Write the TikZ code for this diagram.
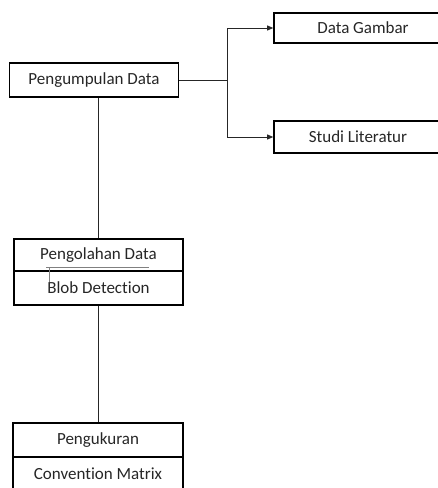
\documentclass[tikz,border=0pt]{standalone}
\usepackage{fontspec}
\setmainfont{Carlito}[Ligatures=NoCommon]
\usetikzlibrary{arrows.meta}
\begin{document}
\begin{tikzpicture}[x=1pt,y=-1pt,
  box/.style={draw, line width=1.6pt, inner sep=0pt, font=\fontsize{17}{20}\selectfont, text=black!85},
  conn/.style={line width=0.8pt, draw=black!85},
  arr/.style={conn, -{Triangle[length=6pt,width=5pt]}},
  mark line/.style={line width=0.7pt, draw=black!50}]
\useasboundingbox (0,0) rectangle (438,488);
\clip (0,0) rectangle (438,488);
\node[box, minimum width=169pt, minimum height=34pt] (pd) at (94,80) {Pengumpulan Data};
\node[box, minimum width=178pt, minimum height=30pt] (dg) at (363,28) {Data Gambar};
\node[box, minimum width=168pt, minimum height=32pt] (sl) at (358,137) {Studi Literatur};
\node[box, minimum width=169pt, minimum height=32pt] (po1) at (98.5,255) {Pengolahan Data};
\node[box, minimum width=169pt, minimum height=34pt] (po2) at (98.5,288) {Blob Detection};
\node[box, minimum width=170pt, minimum height=34pt] (pk1) at (98,440) {Pengukuran};
\node[box, minimum width=170pt, minimum height=34pt] (pk2) at (98,474) {Convention Matrix};
\coordinate (j) at (227,80);
\draw[conn] (pd.east) -- (j);
\draw[arr] (j) |- (dg.west);
\draw[arr] (j) |- (sl.west);
\draw[conn] (pd.south -| po1.north) -- (po1.north);
\draw[conn] (po2.south -| pk1.north) -- (pk1.north);
\coordinate (u1) at (46,267);
\coordinate (u2) at (149,267);
\coordinate (t2) at (49,282);
\draw[mark line] (u1) -- (u2);
\draw[mark line] (u1 -| t2) -- (t2);
\end{tikzpicture}
\end{document}
